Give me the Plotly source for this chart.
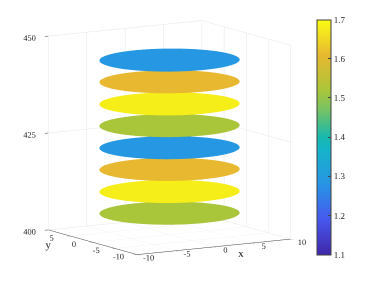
import numpy as np
import plotly.graph_objects as go

# ---- data ----
t_levels = [405.5, 411.1, 416.8, 422.4, 428.1, 433.7, 439.4, 445.0]
disc_values = [1.52, 1.68, 1.61, 1.29, 1.52, 1.68, 1.61, 1.29]
disc_radius = 7.9
x_ticks = [-10, -5, 0, 5, 10]
y_ticks = [-10, -5, 0, 5]
t_ticks = [400, 425, 450]
cbar_ticks = [1.1, 1.2, 1.3, 1.4, 1.5, 1.6, 1.7]

parula = [
    [0.00, "#3E26A8"],
    [0.15, "#4758EE"],
    [0.30, "#2894E6"],
    [0.45, "#15B4C9"],
    [0.50, "#17B8AE"],
    [0.62, "#78C262"],
    [0.70, "#AAC63A"],
    [0.85, "#E7B830"],
    [0.95, "#F4E620"],
    [1.00, "#F9FB0E"],
]

phi = np.linspace(0, 2 * np.pi, 121)
rho = np.array([0.0, disc_radius])
P, R = np.meshgrid(phi, rho)

fig = go.Figure()
for t, v in zip(t_levels, disc_values):
    fig.add_trace(go.Surface(
        x=R * np.cos(P), y=R * np.sin(P), z=np.full(P.shape, t),
        surfacecolor=np.full(P.shape, v),
        coloraxis="coloraxis",
        lighting=dict(ambient=1, diffuse=0, specular=0, roughness=1, fresnel=0),
        hoverinfo="skip",
    ))

fnt = dict(family="Liberation Serif", size=10, color="#262626")
ax_common = dict(
    showbackground=False,
    gridcolor="#E6E6E6", gridwidth=1,
    showline=True, linecolor="#404040", linewidth=1,
    ticks="outside", ticklen=4, tickcolor="#404040",
    tickfont=fnt, tickangle=0, zeroline=False, showspikes=False,
    title_font=dict(family="Liberation Serif", size=11, color="#262626"),
)

def lbl(vals):
    return [str(v) for v in vals]

fig.update_layout(
    width=382, height=287,
    margin=dict(l=0, r=0, t=0, b=0),
    paper_bgcolor="white",
    font=fnt,
    coloraxis=dict(
        colorscale=parula, cmin=1.1, cmax=1.7,
        colorbar=dict(
            x=0.808, xanchor="left", y=0.55, yanchor="middle",
            lenmode="pixels", len=235, thickness=14,
            outlinewidth=1, outlinecolor="#404040",
            tickvals=cbar_ticks, ticks="inside", ticklen=3,
            tickfont=dict(family="Liberation Serif", size=9, color="#262626"),
            xpad=0, ypad=0,
        ),
    ),
    scene=dict(
        domain=dict(x=[0.03, 0.83], y=[0.0, 1.0]),
        aspectmode="manual", aspectratio=dict(x=1.25, y=1.2, z=1.37),
        camera=dict(
            projection=dict(type="orthographic"),
            eye=dict(x=-0.8, y=-1.36, z=0.17),
            up=dict(x=0, y=0, z=1),
            center=dict(x=0.02, y=0, z=-0.1),
        ),
        xaxis=dict(ax_common, range=[-10, 10], tickvals=x_ticks, ticktext=lbl(x_ticks), title_text="x"),
        yaxis=dict(ax_common, range=[-10, 10], tickvals=y_ticks, ticktext=lbl(y_ticks), title_text="y"),
        zaxis=dict(ax_common, range=[400, 450], tickvals=t_ticks, ticktext=lbl(t_ticks), title_text="t",
                   showline=False),
    ),
)

fig.write_html("out.html")
